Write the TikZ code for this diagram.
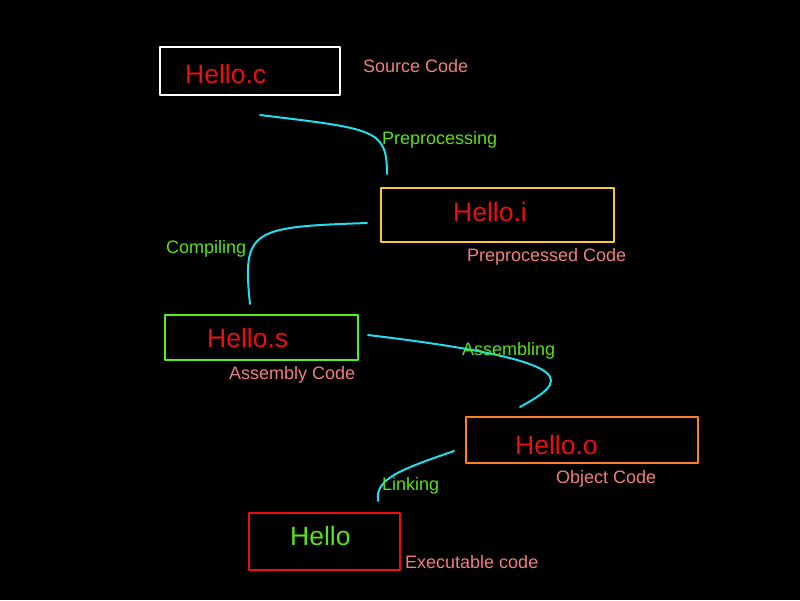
\documentclass[tikz,border=0pt]{standalone}
\usepackage{fontspec}
\setmainfont{Liberation Sans}
\definecolor{boxred}{HTML}{E81010}
\definecolor{salmon}{HTML}{F08080}
\definecolor{stagegreen}{HTML}{5CE01C}
\definecolor{linkcyan}{HTML}{22DDEE}
\definecolor{goldline}{HTML}{FFC832}
\definecolor{greenline}{HTML}{55EE22}
\definecolor{orangeline}{HTML}{FF7F27}
\begin{document}
\begin{tikzpicture}[x=1pt, y=-1pt, line join=round, line cap=round,
    box/.style={draw=#1, line width=2pt, inner sep=0pt},
    fname/.style={font=\fontsize{26.5}{30}\selectfont, text=boxred, anchor=base west, inner sep=0pt},
    desc/.style={font=\fontsize{18}{21}\selectfont, text=salmon, anchor=base west, inner sep=0pt},
    stage/.style={font=\fontsize{18}{21}\selectfont, text=stagegreen, anchor=base west, inner sep=0pt},
    link/.style={draw=linkcyan, line width=2pt}]
    \fill[black] (0,0) rectangle (800,600);
    %\draw[gray!50] (0,0) grid[step=50] (800,600);
    % the five files
    \node[box=white, minimum width=180pt, minimum height=48pt] (hc) at (250,71) {};
    \node[box=goldline, minimum width=233pt, minimum height=54pt] (hi) at (497.5,215) {};
    \node[box=greenline, minimum width=193pt, minimum height=45pt] (hs) at (261.5,337.5) {};
    \node[box=orangeline, minimum width=232pt, minimum height=46pt] (ho) at (582,440) {};
    \node[box=boxred, minimum width=151pt, minimum height=57pt] (hx) at (324.5,541.5) {};
    \node[fname] (tc) at (185,83) {Hello.c};
    \node[fname] (ti) at (453,221) {Hello.i};
    \node[fname] (ts) at (207,347) {Hello.s};
    \node[fname] (to) at (515,454) {Hello.o};
    \node[fname, text=stagegreen] (tx) at (290,545) {Hello};
    % what each file is
    \node[desc] (dc) at (363,72) {Source Code};
    \node[desc] (di) at (467,261) {Preprocessed Code};
    \node[desc] (ds) at (229,379) {Assembly Code};
    \node[desc] (do) at (556,483) {Object Code};
    \node[desc] (dx) at (405,568) {Executable code};
    % the steps
    \draw[link] ([shift={(10,19)}]hc.south) .. controls +(115,14) and +(0,-45) .. ([shift={(7,-13)}]hi.north west);
    \draw[link] ([shift={(-13,8)}]hi.west) .. controls +(-115,4) and +(-8,-75) .. ([shift={(-11.5,-10)}]hs.north);
    \draw[link] ([shift={(9,-2.5)}]hs.east) .. controls +(225,27) and +(45,-25) .. ([shift={(-62,-9)}]ho.north);
    \draw[link] ([shift={(-11,11)}]ho.west) .. controls +(-55,19) and +(-3,-22) .. ([shift={(53.5,-11)}]hx.north);
    \node[stage] (sp) at (382,144) {Preprocessing};
    \node[stage] (sc) at (166,253) {Compiling};
    \node[stage] (sa) at (462,355) {Assembling};
    \node[stage] (sl) at (382,490) {Linking};
\end{tikzpicture}
\end{document}
